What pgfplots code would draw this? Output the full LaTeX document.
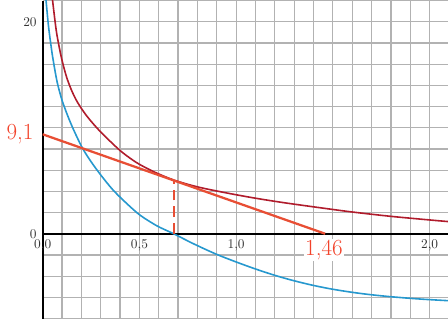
\documentclass[border=0pt]{standalone}
\usepackage{pgfplots}
\pgfplotsset{compat=1.18}
\definecolor{curvered}{RGB}{176,28,44}
\definecolor{curveblue}{RGB}{38,152,206}
\definecolor{tanred}{RGB}{232,78,52}
\definecolor{labred}{RGB}{242,66,42}
\definecolor{gridgray}{RGB}{178,178,178}
\begin{document}
\begin{tikzpicture}
\useasboundingbox (-32pt,-3.4pt) rectangle (304pt,238.9pt);
\begin{axis}[
  x=145.1pt, y=7.95pt,
  xmin=0, xmax=2.095, ymin=-8, ymax=22,
  axis lines=middle,
  axis line style={black, line width=1.3pt, -},
  xtick={0,0.1,0.2,0.3,0.4,0.5,0.6,0.7,0.8,0.9,1,1.1,1.2,1.3,1.4,1.5,1.6,1.7,1.8,1.9,2,2.1},
  xticklabels={{0,0},{},{},{},{},{0,5},{},{},{},{},{1,0},{},{},{},{},{},{},{},{},{},{2,0},{}},
  ytick={-8,-6,-4,-2,0,2,4,6,8,10,12,14,16,18,20,22},
  yticklabels={{},{},{},{},{0},{},{},{},{},{},{},{},{},{},{20},{}},
  grid=major,
  major grid style={gridgray, line width=0.9pt},
  major tick length=0pt,
  hide obscured x ticks=false, hide obscured y ticks=false,
  clip mode=individual,
  xticklabel style={anchor=north, yshift=-1pt, text=black!80},
  yticklabel style={anchor=east, xshift=-1pt, text=black!80},
]
\addplot[curvered, line width=1.2pt, smooth, tension=0.5] coordinates {
(0.050,22.2) (0.070,19.2) (0.090,17.2) (0.105,16.0) (0.125,14.7) (0.150,13.5)
(0.180,12.4) (0.220,11.3) (0.260,10.4) (0.300,9.6) (0.350,8.7) (0.400,7.85)
(0.450,7.15) (0.500,6.55) (0.580,5.8) (0.677,5.07) (0.800,4.42) (0.950,3.85)
(1.100,3.35) (1.250,2.92) (1.435,2.45) (1.600,2.05) (1.800,1.64) (2.000,1.30)
(2.100,1.14)};
\addplot[curveblue, line width=1.2pt, smooth, tension=0.5] coordinates {
(0.016,22.3) (0.030,19.6) (0.045,17.5) (0.055,16.3) (0.075,14.3) (0.100,12.6)
(0.130,11.1) (0.160,9.8) (0.205,8.1) (0.250,6.8) (0.300,5.55) (0.360,4.2)
(0.420,3.1) (0.500,1.8) (0.590,0.75) (0.677,0) (0.780,-0.95) (0.900,-1.95)
(1.020,-2.8) (1.120,-3.45) (1.210,-3.98) (1.300,-4.44) (1.400,-4.88)
(1.500,-5.24) (1.605,-5.54) (1.700,-5.76) (1.810,-5.96) (1.950,-6.16) (2.100,-6.32)};
\addplot[tanred, line width=1.7pt] coordinates {(0,9.38) (1.46,0)};
\addplot[tanred, line width=1.5pt, dash pattern=on 8pt off 4.5pt] coordinates {(0.677,0) (0.677,5.07)};
\node[labred, font=\LARGE] at (axis cs:-0.117,9.4) {9,1};
\node[labred, font=\LARGE, fill=white, inner sep=1pt] at (axis cs:1.454,-1.54) {1,46};
\end{axis}
\end{tikzpicture}
\end{document}
